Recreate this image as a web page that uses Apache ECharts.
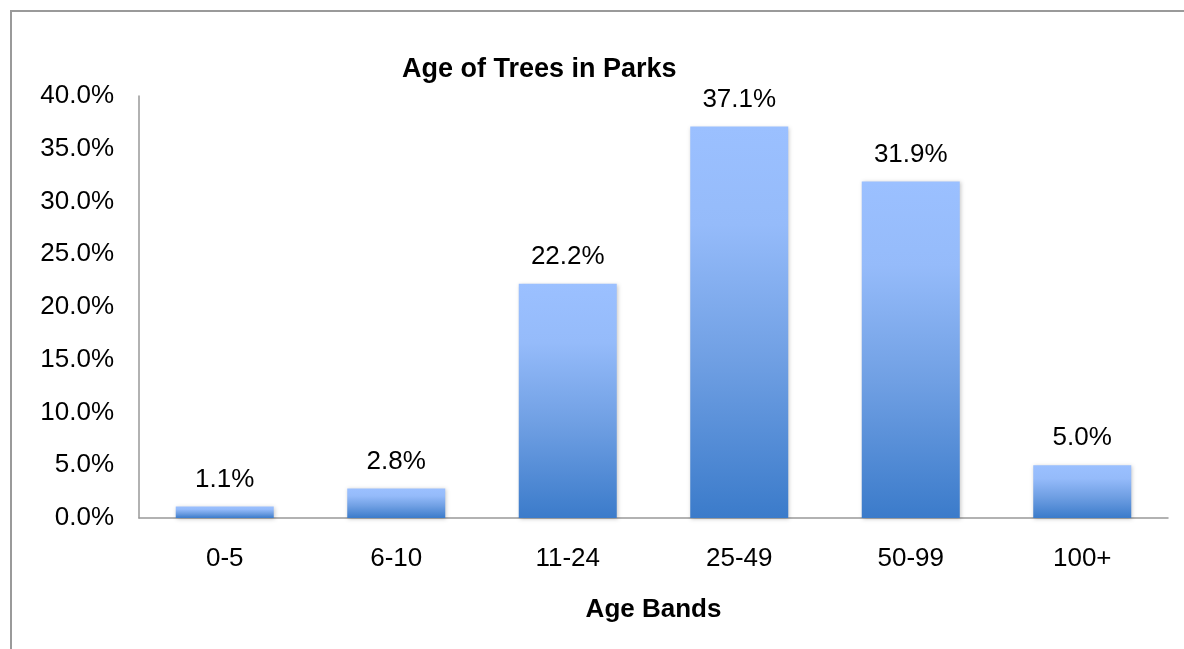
<!DOCTYPE html>
<html>
<head>
<meta charset="utf-8">
<title>Age of Trees in Parks</title>
<script src="https://cdn.jsdelivr.net/npm/echarts@6/dist/echarts.min.js"></script>
<style>
  html, body { margin: 0; padding: 0; background: #fff; overflow: hidden; }
  #frame {
    position: absolute; left: 10px; top: 10px;
    width: 1200px; height: 700px;
    border-left: 2px solid #9a9a9a; border-top: 2px solid #9a9a9a;
    box-sizing: border-box;
  }
  #chart { position: absolute; left: 0; top: 0; width: 1184px; height: 649px; }
</style>
</head>
<body>
<div id="frame"></div>
<div id="chart"></div>
<script>
// Share of park trees in each age band (percent)
const ageBands = ['0-5', '6-10', '11-24', '25-49', '50-99', '100+'];
const treeShare = [1.1, 2.8, 22.2, 37.1, 31.9, 5.0];
const yTicks = { min: 0, max: 40, interval: 5 };

const chart = echarts.init(document.getElementById('chart'), null, { renderer: 'canvas' });
const font = '"Liberation Sans", Arial, sans-serif';

chart.setOption({
  animation: false,
  title: {
    text: 'Age of Trees in Parks',
    left: 397, top: 51,
    textStyle: { fontFamily: font, fontSize: 27, fontWeight: 'bold', color: '#000' }
  },
  grid: { left: 139, right: 16, top: 96, bottom: 131, containLabel: false },
  xAxis: {
    type: 'category',
    data: ageBands,
    name: 'Age Bands',
    nameLocation: 'middle',
    nameGap: 79,
    nameTextStyle: { fontFamily: font, fontSize: 26, fontWeight: 'bold', color: '#000' },
    axisLine: { lineStyle: { color: '#999', width: 1.5 } },
    axisTick: { show: false },
    axisLabel: { fontFamily: font, fontSize: 26, color: '#000', margin: 28 }
  },
  yAxis: {
    type: 'value',
    min: yTicks.min, max: yTicks.max, interval: yTicks.interval,
    axisLine: { show: true, lineStyle: { color: '#999', width: 1.5 } },
    axisTick: { show: false },
    splitLine: { show: false },
    axisLabel: {
      fontFamily: font, fontSize: 26, color: '#000', margin: 25,
      formatter: v => v.toFixed(1) + '%'
    }
  },
  series: [{
    type: 'bar',
    data: treeShare,
    barWidth: 98,
    itemStyle: {
      color: new echarts.graphic.LinearGradient(0, 0, 0, 1, [
        { offset: 0, color: '#9bc0ff' },
        { offset: 0.25, color: '#95bbfa' },
        { offset: 0.6, color: '#6f9fe3' },
        { offset: 1, color: '#3b7bca' }
      ]),
      shadowColor: 'rgba(0,0,0,0.22)',
      shadowBlur: 4,
      shadowOffsetX: 1,
      shadowOffsetY: 1
    },
    label: {
      show: true,
      position: 'top',
      distance: 14,
      fontFamily: font, fontSize: 26, color: '#000',
      formatter: p => p.value.toFixed(1) + '%'
    }
  }]
});
</script>
</body>
</html>
